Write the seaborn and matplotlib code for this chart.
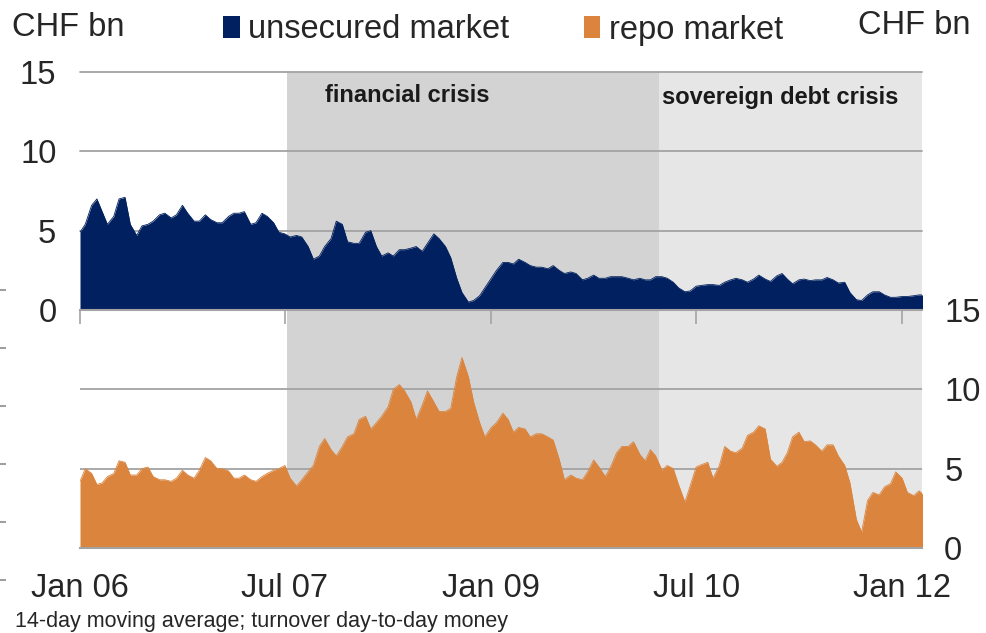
import pandas as pd
import numpy as np
import matplotlib
matplotlib.use("Agg")
import matplotlib.pyplot as plt
from matplotlib.patches import Patch
import seaborn as sns

# ==============================
# Data (CHF bn, 14-day moving average, semi-monthly)
# ==============================

dates = pd.date_range("2006-01-01", periods=149, freq="SMS")

unsecured = [
    4.9, 5.4, 6.6, 7.0, 6.2, 5.4, 5.9, 7.0, 7.1, 5.4, 4.7, 5.3, 5.4, 5.6, 6.0, 6.1,
    5.8, 6.0, 6.6, 6.1, 5.6, 5.6, 6.0, 5.7, 5.5, 5.5, 5.9, 6.1, 6.1, 6.2, 5.4, 5.5,
    6.1, 5.9, 5.5, 4.9, 4.8, 4.6, 4.7, 4.6, 4.0, 3.2, 3.4, 4.0, 4.5, 5.6, 5.4, 4.3,
    4.2, 4.2, 4.9, 5.0, 4.0, 3.4, 3.6, 3.4, 3.8, 3.8, 3.9, 4.0, 3.7, 4.2, 4.8, 4.5,
    4.0, 3.3, 2.0, 1.1, 0.5, 0.6, 0.9, 1.4, 2.0, 2.5, 3.0, 3.0, 2.9, 3.2, 3.0, 2.8,
    2.7, 2.7, 2.6, 2.8, 2.5, 2.3, 2.4, 2.3, 1.9, 2.0, 2.2, 2.0, 2.0, 2.1, 2.1, 2.1,
    2.0, 1.9, 2.0, 1.9, 1.9, 2.1, 2.1, 2.0, 1.75, 1.4, 1.15, 1.2, 1.5, 1.55, 1.6, 1.6,
    1.55, 1.75, 1.9, 2.0, 1.9, 1.75, 1.95, 2.2, 1.95, 1.8, 2.15, 2.3, 1.95, 1.65, 1.9, 1.95,
    1.85, 1.9, 1.9, 2.05, 1.9, 1.7, 1.75, 1.1, 0.65, 0.6, 0.95, 1.15, 1.15, 0.95, 0.8, 0.8,
    0.85, 0.85, 0.9, 0.95, 0.95,
]

repo = [
    4.2, 5.0, 4.7, 4.0, 4.1, 4.5, 4.7, 5.5, 5.4, 4.6, 4.6, 5.0, 5.1, 4.5, 4.3, 4.3,
    4.2, 4.4, 4.9, 4.6, 4.4, 4.9, 5.7, 5.5, 5.0, 5.0, 4.85, 4.4, 4.4, 4.6, 4.3, 4.2,
    4.5, 4.7, 4.9, 5.0, 5.2, 4.4, 3.9, 4.3, 4.8, 5.2, 6.4, 6.9, 6.2, 5.8, 6.4, 7.0,
    7.2, 8.1, 8.3, 7.5, 7.9, 8.3, 8.9, 10.0, 10.3, 9.9, 9.2, 8.1, 9.0, 9.9, 9.2, 8.6,
    8.6, 8.8, 10.8, 12.0, 10.8, 9.2, 7.9, 7.0, 7.6, 7.9, 8.5, 8.1, 7.3, 7.6, 7.5, 7.0,
    7.2, 7.2, 7.0, 6.8, 5.6, 4.3, 4.6, 4.4, 4.3, 4.8, 5.55, 5.1, 4.5, 5.1, 6.0, 6.4,
    6.4, 6.7, 5.9, 5.5, 6.2, 5.8, 4.9, 5.2, 5.0, 4.0, 2.9, 3.9, 5.1, 5.25, 5.4, 4.4,
    5.2, 6.4, 6.1, 6.0, 6.3, 7.1, 7.3, 7.7, 7.5, 5.6, 5.15, 5.4, 6.0, 7.0, 7.3, 6.7,
    6.75, 6.5, 6.1, 6.5, 6.5, 5.8, 5.2, 4.1, 1.8, 1.0, 3.0, 3.5, 3.35, 3.85, 4.05, 4.8,
    4.4, 3.5, 3.3, 3.6, 3.3,
]

tick_dates = ["2006-01-01", "2007-07-01", "2009-01-01", "2010-07-01", "2012-01-01"]
tick_labels = ["Jan 06", "Jul 07", "Jan 09", "Jul 10", "Jan 12"]

financial_crisis = ("2007-07-06", "2010-03-25")
sovereign_crisis = ("2010-03-25", "2012-02-23")
x_start, x_end = "2006-01-01", "2012-02-23"

df = pd.DataFrame({"date": dates, "unsecured": unsecured, "repo": repo})

# ==============================
# Style
# ==============================

NAVY = "#00205F"
ORANGE = "#DB843D"
GRID = "#A3A3A3"
FIN_SHADE = "#D3D3D3"
SOV_SHADE = "#E6E6E6"

sns.set_theme(style="white")
plt.rcParams["font.family"] = ["Liberation Sans", "DejaVu Sans"]
FS = 23.5

fig = plt.figure(figsize=(9.86, 6.33), dpi=100)
W, H = 986, 633

def px_axes(x0, y0, x1, y1):
    return fig.add_axes([x0 / W, 1 - y1 / H, (x1 - x0) / W, (y1 - y0) / H])

ax_bot = px_axes(80, 310, 922, 548)
ax_top = px_axes(80, 72, 922, 310)
ax_top.set_zorder(2)

# ==============================
# Panels
# ==============================

for ax, col, color in [(ax_top, "unsecured", NAVY), (ax_bot, "repo", ORANGE)]:
    ax.axvspan(pd.Timestamp(financial_crisis[0]), pd.Timestamp(financial_crisis[1]),
               color=FIN_SHADE, lw=0, zorder=0)
    ax.axvspan(pd.Timestamp(sovereign_crisis[0]), pd.Timestamp(sovereign_crisis[1]),
               color=SOV_SHADE, lw=0, zorder=0)
    sns.lineplot(data=df, x="date", y=col, ax=ax, color=color, lw=0.6, zorder=3)
    ax.fill_between(df["date"], 0, df[col], color=color, lw=0, zorder=3)
    ax.set_xlim(pd.Timestamp(x_start), pd.Timestamp(x_end))
    ax.set_ylim(0, 15)
    ax.set_xlabel("")
    ax.set_ylabel("")
    for s in ["top", "left", "right"]:
        ax.spines[s].set_visible(False)
    ax.spines["bottom"].set_color(GRID)
    ax.spines["bottom"].set_linewidth(1.5)
    ax.spines["bottom"].set_zorder(4)
    ax.patch.set_alpha(0)

# gridlines
for v in [5, 10, 15]:
    ax_top.axhline(v, color=GRID, lw=1.3, zorder=1, clip_on=False)
for v in [5, 10]:
    ax_bot.axhline(v, color=GRID, lw=1.3, zorder=1)

# top panel: left labels, tick marks on baseline
ax_top.set_yticks([0, 5, 10, 15])
ax_top.set_yticklabels(["0", "5", "10", "15"], fontsize=FS)
ax_top.tick_params(axis="y", length=0, pad=17)
ax_top.set_xticks(pd.to_datetime(tick_dates))
ax_top.tick_params(axis="x", direction="out", length=10, width=1.2, color=GRID,
                   bottom=True, labelbottom=False)

# bottom panel: right labels, x labels
ax_bot.yaxis.tick_right()
ax_bot.set_yticks([0, 5, 10, 15])
ax_bot.set_yticklabels(["0", "5", "10", "15"], fontsize=FS)
ax_bot.tick_params(axis="y", length=0, pad=16)
ax_bot.set_xticks(pd.to_datetime(tick_dates))
ax_bot.set_xticklabels(tick_labels, fontsize=FS)
ax_bot.tick_params(axis="x", length=0, pad=18)

# crisis labels
ax_top.text(pd.Timestamp("2008-05-22"), 13.55, "financial crisis", fontsize=17,
            fontweight="bold", ha="center", va="center", color="#1A1A1A")
ax_top.text(pd.Timestamp("2011-02-10"), 13.4, "sovereign debt crisis", fontsize=17,
            fontweight="bold", ha="center", va="center", color="#1A1A1A")

# ==============================
# Header, legend, footnote
# ==============================

fig.text(12 / W, 1 - 28 / H, "CHF bn", fontsize=FS, ha="left", va="center")
fig.text(970 / W, 1 - 25 / H, "CHF bn", fontsize=FS, ha="right", va="center")

handles = [Patch(facecolor=NAVY, edgecolor="none"), Patch(facecolor=ORANGE, edgecolor="none")]
fig.legend(handles, ["unsecured market", "repo market"], loc="center",
           bbox_to_anchor=(503 / W, 1 - 30 / H), ncol=2, frameon=False, fontsize=FS,
           handlelength=0.5, handleheight=0.65, handletextpad=0.25, columnspacing=2.3)

fig.text(15 / W, 1 - 621 / H, "14-day moving average; turnover day-to-day money",
         fontsize=15.5, ha="left", va="center")

# faint edge ticks on the far left
ax_edge = px_axes(0, 290, 5, 580)
ax_edge.set_ylim(0, 5)
ax_edge.set_yticks([0, 1, 2, 3, 4, 5])
ax_edge.set_xticks([])
ax_edge.tick_params(axis="y", left=True, direction="in", length=4, width=1.2,
                    color="#8C8C8C", labelleft=False)
for s in ax_edge.spines.values():
    s.set_visible(False)
ax_edge.patch.set_alpha(0)

fig.savefig("out.png", dpi=100)
